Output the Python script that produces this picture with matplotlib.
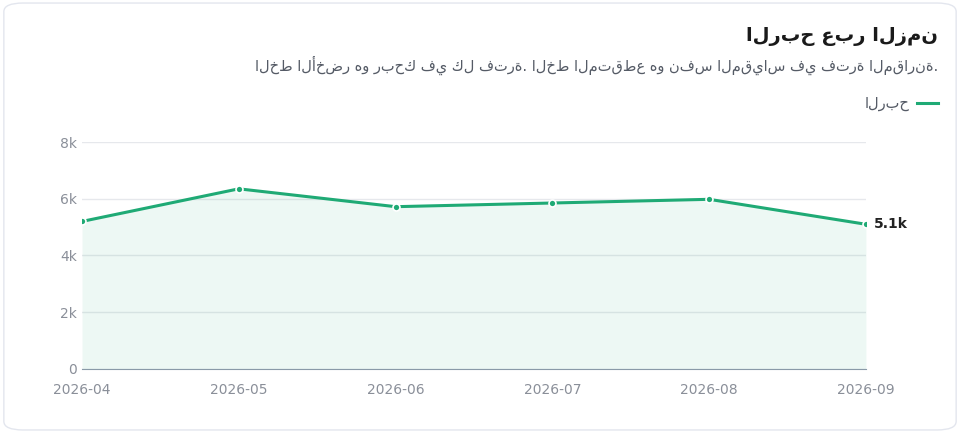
import matplotlib
matplotlib.use("Agg")
import matplotlib.pyplot as plt
from matplotlib.patches import FancyBboxPatch

months = ["2026-04", "2026-05", "2026-06", "2026-07", "2026-08", "2026-09"]
profit = [5200, 6350, 5720, 5850, 5980, 5100]
yticks = [0, 2000, 4000, 6000, 8000]
ylabels = ["0", "2k", "4k", "6k", "8k"]
title = "الربح عبر الزمن"
subtitle = "الخط الأخضر هو ربحك في كل فترة. الخط المتقطع هو نفس المقياس في فترة المقارنة."
series_name = "الربح"
green = "#1faa75"

plt.rcParams['font.family'] = ['DejaVu Sans']
fig = plt.figure(figsize=(9.6, 4.33), dpi=100)
box = FancyBboxPatch((0.004, 0.007), 0.992, 0.986, boxstyle="round,pad=0,rounding_size=0.02",
                     transform=fig.transFigure, fc="white", ec="#e3e6ee", lw=1, zorder=-10)
fig.patches.append(box)
ax = fig.add_axes([0.0854, 0.148, 0.8166, 0.524])
ax.patch.set_alpha(0)
x = list(range(len(months)))
ax.fill_between(x, profit, 0, color=green, alpha=0.08, lw=0)
ax.plot(x, profit, color=green, lw=2.2, marker="o", ms=5, mec="white", mew=1.2)
ax.text(x[-1] + 0.05, profit[-1], "5.1k", fontsize=10, fontweight="bold", va="center", ha="left", color="#222")
ax.set_xlim(0, len(months) - 1)
ax.set_ylim(0, 8000)
ax.set_yticks(yticks)
ax.set_yticklabels(ylabels)
ax.set_xticks(x)
ax.set_xticklabels(months)
ax.tick_params(length=0, colors="#8a8f99", labelsize=10)
ax.tick_params(axis="x", pad=10)
ax.grid(axis="y", color="#e6e8ec", lw=1)
for s in ["top", "right", "left"]:
    ax.spines[s].set_visible(False)
ax.spines["bottom"].set_color("#8a9aa8")
ax.set_axisbelow(True)

fig.text(0.977, 0.915, title, ha="right", va="center", fontsize=14, fontweight="bold", color="#1a1a1a")
fig.text(0.977, 0.848, subtitle, ha="right", va="center", fontsize=10.5, color="#555b66")
fig.text(0.947, 0.762, series_name, ha="right", va="center", fontsize=10.5, color="#555b66")
fig.add_artist(plt.Line2D([0.955, 0.977], [0.762, 0.762], color=green, lw=2.2, transform=fig.transFigure))
fig.savefig("out.png", dpi=100)
